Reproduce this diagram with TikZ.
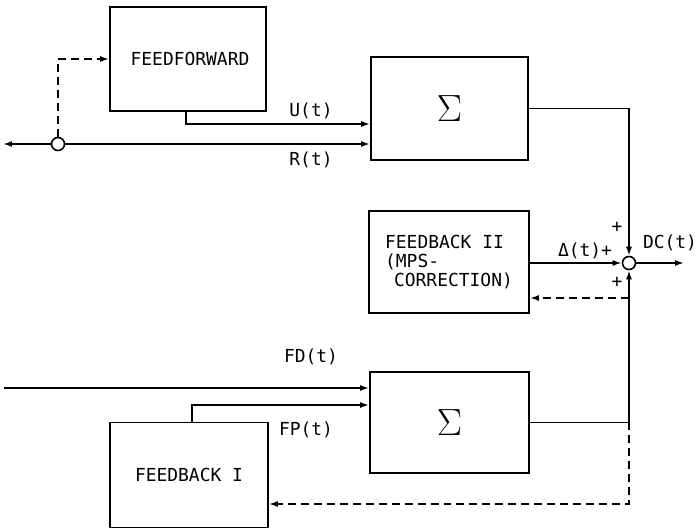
\documentclass[tikz,border=0pt]{standalone}
\usepackage{fontspec}
\setmonofont{DejaVu Sans Mono}
\usetikzlibrary{arrows.meta}
\begin{document}
\begin{tikzpicture}[x=1bp,y=-1bp,
  every node/.style={font=\ttfamily\fontsize{18}{19.5}\selectfont},
  blk/.style={draw, line width=1.8pt, inner sep=0pt},
  junc/.style={draw, circle, line width=1.6pt, minimum size=13bp, inner sep=0pt},
  lbl/.style={inner sep=0pt},
  sig/.style={font=\fontsize{18}{20}\selectfont, scale=2.2},
  conn/.style={line width=1.7pt},
  arr/.style={conn, -{Latex[length=9pt,width=6pt]}},
  darr/.style={arr, dash pattern=on 8pt off 5pt}]
\useasboundingbox (0,0) rectangle (697,530);
% blocks
\node[blk, minimum width=156bp, minimum height=104bp] (FF) at (188,59) {\hspace*{4bp}FEEDFORWARD};
\node[blk, minimum width=157bp, minimum height=103bp] (S1) at (449.5,108.5) {};
\node[sig] at (S1) {$\Sigma$};
\node[blk, minimum width=160bp, minimum height=102bp, align=left] (FB2) at (449,262)
  {FEEDBACK II\\(MPS-\\\hspace*{0.5em}CORRECTION)};
\node[blk, minimum width=159bp, minimum height=101bp] (S2) at (449.5,422.5) {};
\node[sig] at (S2) {$\Sigma$};
\node[blk, minimum width=158bp, minimum height=105bp] (FB1) at (189,475) {FEEDBACK I};
% junctions
\node[junc] (C) at (58,144) {};
\node[junc] (J) at (629,263) {};
\coordinate (rin) at (3,144);
\coordinate (fdin) at (4,388);
\coordinate (dc) at (684,263);
\coordinate (t2) at (629,298);
% connectors
\draw[darr] (C.north) |- (FF.west);
\draw[arr] (C.west) -- (rin);
\draw[arr] (C.east) -- (S1.west |- C.east);
\draw[arr] ([xshift=-2bp]FF.south) |- (S1.west |- 0,124);
\draw[arr] (S1.east) -| (J.north);
\draw[arr] (FB2.east |- J.west) -- (J.west);
\draw[arr] (J.east) -- (dc);
\draw[arr] (S2.east) -| (J.south);
\draw[darr] (t2) -- (FB2.east |- t2);
\draw[darr] (S2.east -| J.south) |- (FB1.east |- 0,504);
\draw[arr] (fdin) -- (S2.west |- fdin);
\draw[arr] ([xshift=3bp]FB1.north) |- (S2.west |- 0,405);
% labels
\node[lbl] at (311,111) {U(t)};
\node[lbl] at (311,160) {R(t)};
\node[lbl] at (311,357) {FD(t)};
\node[lbl] at (306,430) {FP(t)};
\node[lbl] at (585,251) {Δ(t)+};
\node[lbl] at (670,243) {DC(t)};
\node[lbl] at (617,227) {+};
\node[lbl] at (617,282) {+};
\end{tikzpicture}
\end{document}
